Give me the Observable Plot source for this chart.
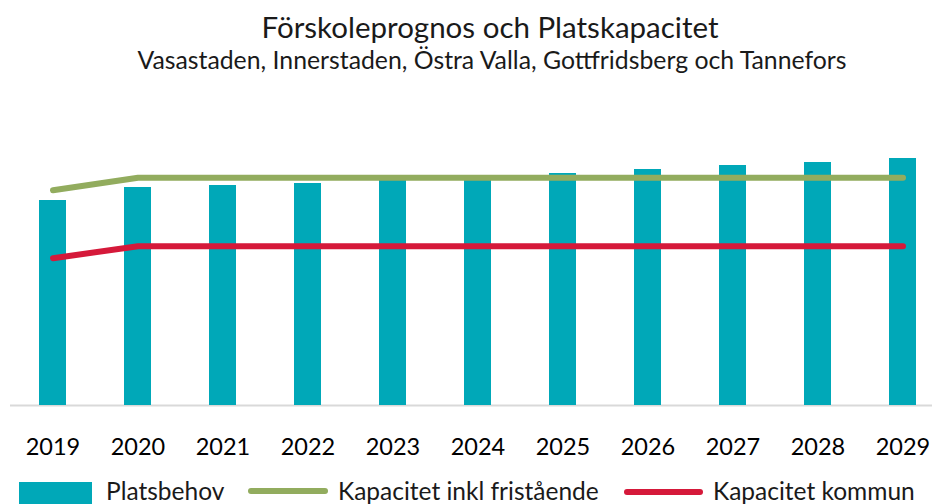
<!DOCTYPE html>
<html>
<head>
<meta charset="utf-8">
<script src="https://cdn.jsdelivr.net/npm/d3@7"></script>
<script src="https://cdn.jsdelivr.net/npm/@observablehq/plot@0.6"></script>
<style>
  html, body { margin: 0; padding: 0; background: #fff; }
  body { width: 932px; height: 504px; position: relative; overflow: hidden; font-family: Lato, sans-serif; color: #1a1a1a; }
  .t { position: absolute; left: 0; width: 932px; text-align: center; line-height: 1; white-space: nowrap; }
  #title { top: 12px; font-size: 29.5px; left: 24px; }
  #subtitle { top: 48px; font-size: 24.8px; left: 26px; }
  #chart { position: absolute; left: 0; top: 100px; }
  .leg { position: absolute; font-size: 24.5px; line-height: 1; white-space: nowrap; top: 479px; }
  .sw { position: absolute; }
</style>
</head>
<body>
<div id="title" class="t">Förskoleprognos och Platskapacitet</div>
<div id="subtitle" class="t">Vasastaden, Innerstaden, Östra Valla, Gottfridsberg och Tannefors</div>
<div id="chart"></div>
<div class="sw" style="left:19px;top:482px;width:73px;height:24px;background:#00A8B8"></div>
<div class="leg" style="left:106px">Platsbehov</div>
<div class="sw" style="left:248px;top:488px;width:80px;height:6px;border-radius:3px;background:#92AC5E"></div>
<div class="leg" style="left:338px">Kapacitet inkl fristående</div>
<div class="sw" style="left:624px;top:489px;width:79px;height:6px;border-radius:3px;background:#D5193A"></div>
<div class="leg" style="left:713px">Kapacitet kommun</div>
<script>
const years = ["2019","2020","2021","2022","2023","2024","2025","2026","2027","2028","2029"];
const platsbehov = [2050, 2180, 2200, 2220, 2260, 2280, 2320, 2360, 2400, 2430, 2470];
const kapacitetInklFristaende = [2153, 2277, 2277, 2277, 2277, 2277, 2277, 2277, 2277, 2277, 2277];
const kapacitetKommun = [1473, 1593, 1593, 1593, 1593, 1593, 1593, 1593, 1593, 1593, 1593];

const rows = years.map((y, i) => ({year: y, behov: platsbehov[i], inkl: kapacitetInklFristaende[i], kommun: kapacitetKommun[i]}));

const chart = Plot.plot({
  width: 932,
  height: 365,
  marginTop: 0,
  marginBottom: 60,
  marginLeft: 10,
  marginRight: 0,
  style: {fontFamily: "Lato, sans-serif", background: "transparent", overflow: "visible"},
  x: {domain: years, paddingInner: 0.682, paddingOuter: 0.2645, align: 0.644, label: null},
  y: {domain: [0, 3050], axis: null},
  marks: [
    Plot.ruleY([0], {stroke: "#d9d9d9", strokeWidth: 2}),
    Plot.barY(rows, {x: "year", y: "behov", fill: "#00A8B8"}),
    Plot.line(rows, {x: "year", y: "inkl", stroke: "#92AC5E", strokeWidth: 6, strokeLinecap: "round", strokeLinejoin: "round"}),
    Plot.line(rows, {x: "year", y: "kommun", stroke: "#D5193A", strokeWidth: 6, strokeLinecap: "round", strokeLinejoin: "round"}),
    Plot.axisX({tickSize: 0, tickPadding: 33, fontSize: 23.5, fill: "#000", label: null})
  ]
});
document.getElementById("chart").appendChild(chart);
</script>
</body>
</html>
